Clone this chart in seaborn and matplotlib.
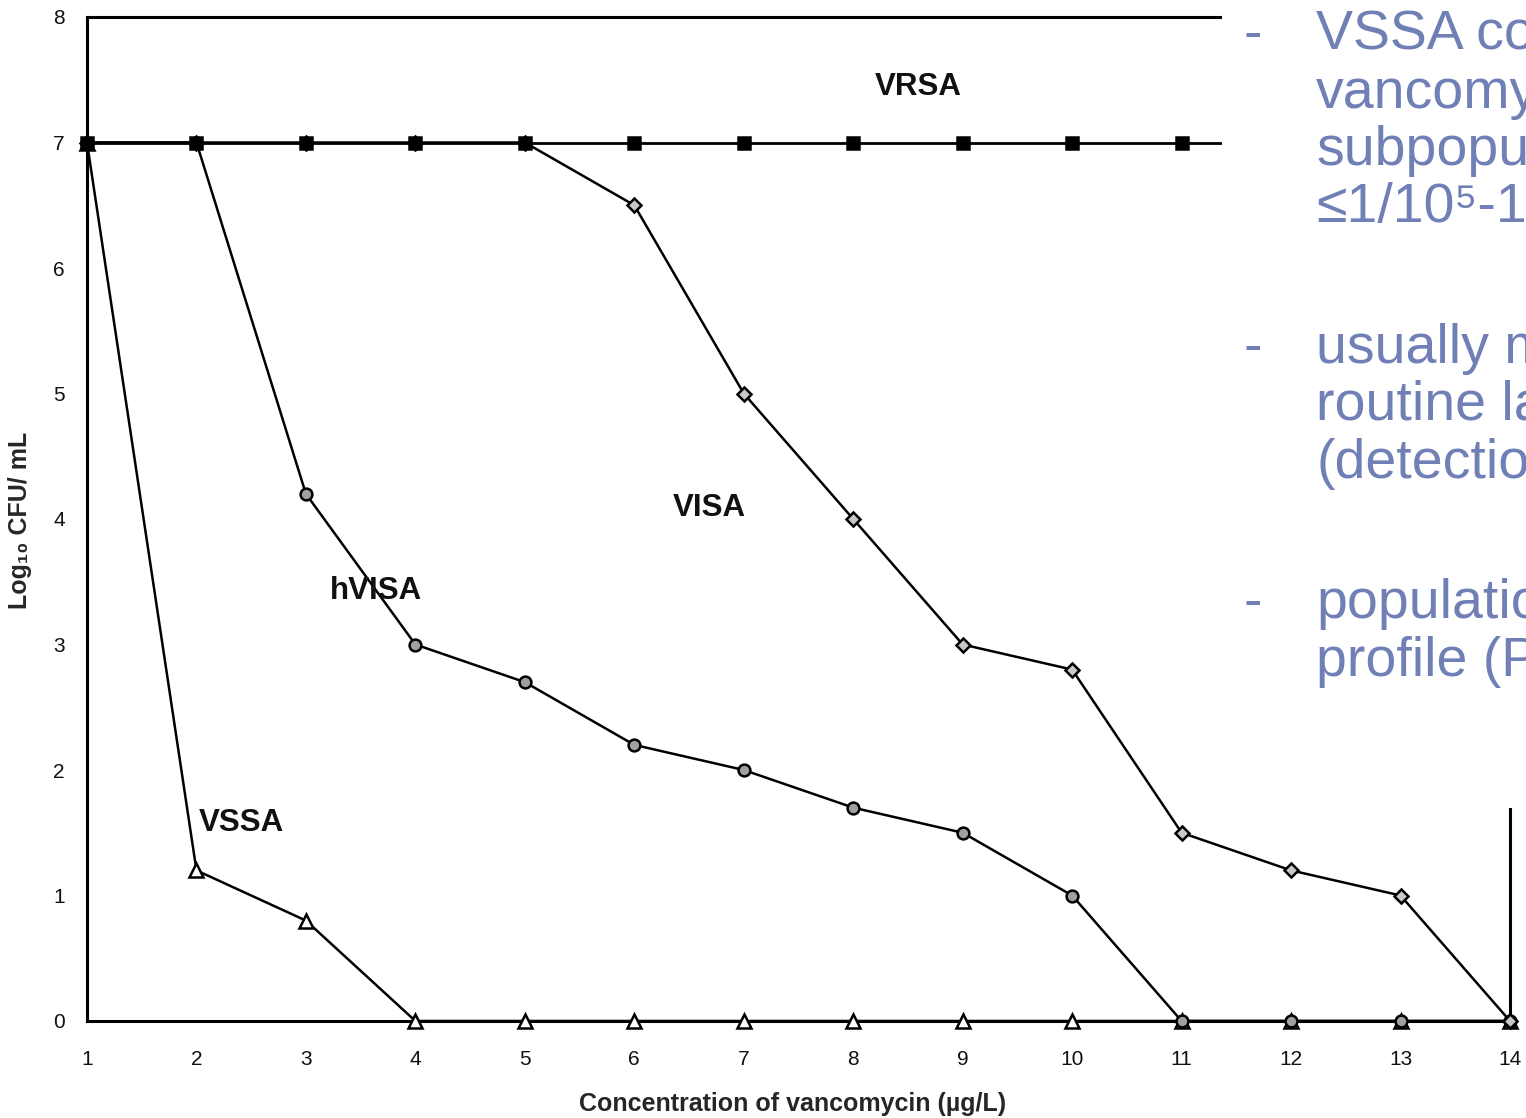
import matplotlib
matplotlib.use("Agg")
import matplotlib.pyplot as plt
import seaborn as sns
import pandas as pd
from matplotlib.patches import Rectangle

# ---- data ----
conc = [1, 2, 3, 4, 5, 6, 7, 8, 9, 10, 11, 12, 13, 14]
vrsa = [7, 7, 7, 7, 7, 7, 7, 7, 7, 7, 7, 7, 7, 7]
visa = [7, 7, 7, 7, 7, 6.5, 5.0, 4.0, 3.0, 2.8, 1.5, 1.2, 1.0, 0]
hvisa = [7, 7, 4.2, 3.0, 2.7, 2.2, 2.0, 1.7, 1.5, 1.0, 0, 0, 0, 0]
vssa = [7, 1.2, 0.8, 0, 0, 0, 0, 0, 0, 0, 0, 0, 0, 0]
y_ticks = [0, 1, 2, 3, 4, 5, 6, 7, 8]
series_labels = ["VRSA", "VISA", "hVISA", "VSSA"]
slide_lines = [
    ("-", "VSSA co"),
    ("", "vancomy"),
    ("", "subpopul"),
    ("", "\u22641/10\u2075-10"),
    ("-", "usually m"),
    ("", "routine la"),
    ("", "(detection"),
    ("-", "populatio"),
    ("", "profile (P"),
]

sns.set_theme(style="white")
plt.rcParams["font.family"] = ["Liberation Sans", "DejaVu Sans"]

W, H = 1526, 1118
fig = plt.figure(figsize=(W / 100, H / 100), dpi=100)
ax = fig.add_axes([87 / W, 1 - 1021 / H, (1510 - 87) / W, (1021 - 17) / H])

df = pd.DataFrame({"conc": conc, "VRSA": vrsa, "VISA": visa, "hVISA": hvisa, "VSSA": vssa})

styles = {
    "VRSA": dict(marker="s", markersize=9, markerfacecolor="black", linewidth=2.0),
    "VISA": dict(marker="D", markersize=7.5, markerfacecolor="#c8c8c8", linewidth=1.8),
    "hVISA": dict(marker="o", markersize=8.5, markerfacecolor="#a0a0a0", linewidth=1.8),
    "VSSA": dict(marker="^", markersize=10, markerfacecolor="white", linewidth=1.8),
}
for name in ["VSSA", "hVISA", "VISA", "VRSA"]:
    sns.lineplot(data=df, x="conc", y=name, ax=ax, color="black",
                 markeredgecolor="black", markeredgewidth=1.8, clip_on=False,
                 zorder=3, **styles[name])

ax.set_xlim(1, 14)
ax.set_ylim(0, 8)
ax.set_xticks(conc)
ax.set_yticks(y_ticks)
ax.tick_params(axis="both", direction="out", length=4, width=1, color="black",
               labelsize=15, labelcolor="#111111")
ax.tick_params(axis="x", pad=17)
ax.tick_params(axis="y", pad=12)
for s in ax.spines.values():
    s.set_visible(True)
    s.set_color("black")
    s.set_linewidth(2.2)
ax.grid(False)

ax.set_xlabel("Concentration of vancomycin (\u00b5g/L)", fontsize=18, fontweight="bold", va="center")
ax.xaxis.set_label_coords((793 - 87) / 1423, (1021 - 1104) / 1004)
ax.set_ylabel("Log\u2081\u2080 CFU/ mL", fontsize=18, fontweight="bold", va="center")
ax.yaxis.set_label_coords((20 - 87) / 1423, (1021 - 520) / 1004)

label_pos = {"VRSA": (8.59, 7.44), "VISA": (6.69, 4.09), "hVISA": (3.64, 3.43), "VSSA": (2.41, 1.58)}
for name in series_labels:
    x, y = label_pos[name]
    ax.text(x, y, name, fontsize=22.5, fontweight="bold", ha="center", va="center", color="#111111")

# white slide text box covering the right part
box = Rectangle((1222 / W, 1 - 808 / H), 1 - 1222 / W, 808 / H, transform=fig.transFigure,
                facecolor="white", edgecolor="none", zorder=10)
fig.add_artist(box)

baselines = [50, 108, 165, 222, 363, 420, 478, 618, 676]
col = "#7080b6"
for (dash, txt), yb in zip(slide_lines, baselines):
    if dash:
        fig.text(1243 / W, 1 - yb / H, dash, fontsize=40, color=col, va="baseline", ha="left", zorder=11)
    fig.text(1316 / W, 1 - yb / H, txt, fontsize=40, color=col, va="baseline", ha="left", zorder=11)

fig.savefig("out.png", dpi=100)
